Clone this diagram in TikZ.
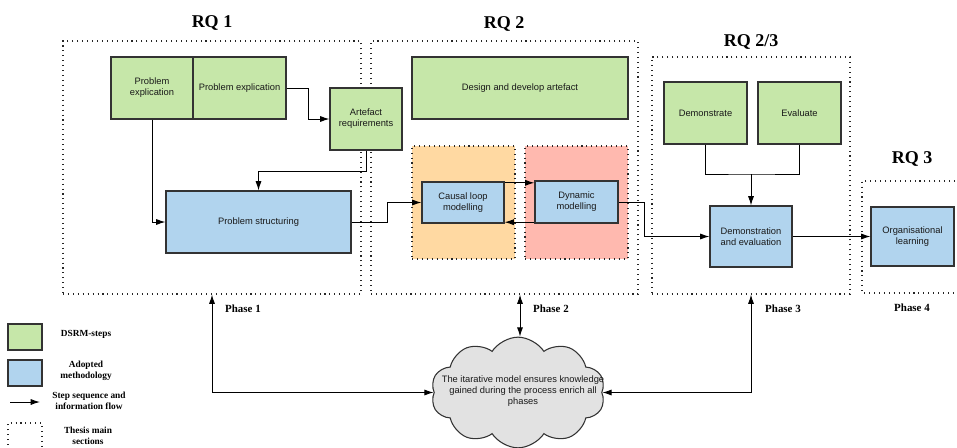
\documentclass[tikz,border=0pt]{standalone}
\usepackage{fontspec}
\setmainfont{Liberation Serif}
\newfontfamily\boxfont{Liberation Sans}
\usetikzlibrary{arrows.meta,shapes.symbols}

\definecolor{dsrmgreen}{HTML}{C6E7A9}
\definecolor{methblue}{HTML}{B1D4EE}
\definecolor{cldorange}{HTML}{FFD9A2}
\definecolor{dynred}{HTML}{FFB9AF}
\definecolor{cloudgrey}{HTML}{E2E2E2}
\definecolor{edge}{HTML}{333333}

\tikzset{
  stepbase/.style={draw=edge, line width=0.8pt, inner sep=1pt, align=center,
    font=\boxfont\fontsize{7}{8.3}\selectfont, text=black!90},
  gbox/.style={stepbase, fill=dsrmgreen},
  bbox/.style={stepbase, fill=methblue},
  dotline/.style={line width=0.8pt, dash pattern=on 0.8pt off 2.9pt, black!85},
  section/.style={dotline, draw, inner sep=0pt},
  region/.style={dotline, draw, inner sep=0pt},
  arr/.style={line width=0.75pt, -{Latex[length=7pt,width=4.6pt]}},
  barr/.style={line width=0.75pt, {Latex[length=7pt,width=4.6pt]}-{Latex[length=7pt,width=4.6pt]}},
  plain/.style={line width=0.75pt},
  rqlabel/.style={font=\bfseries\fontsize{13.5}{15}\selectfont},
  phaselabel/.style={font=\bfseries\fontsize{8.2}{9}\selectfont},
  legendtext/.style={font=\bfseries\fontsize{7}{8.4}\selectfont, align=center},
}

\begin{document}
\begin{tikzpicture}[x=0.75pt, y=-0.75pt]
\useasboundingbox (0,0) rectangle (957,447);

% thesis main sections
\node[section, minimum width=223.5pt, minimum height=189.75pt] (sec1) at (212,167.5) {};
\node[section, minimum width=200.25pt, minimum height=189.75pt] (sec2) at (504.5,167.5) {};
\node[section, minimum width=148.5pt, minimum height=177.75pt] (sec3) at (751,175.5) {};
\draw[dotline] (960,181) -- (862,181) -- (862,293) -- (960,293);

% research question headings
\node[rqlabel] (rq1) at (212,23) {RQ 1};
\node[rqlabel] (rq2) at (504,24) {RQ 2};
\node[rqlabel] (rq23) at (751,42) {RQ 2/3};
\node[rqlabel] (rq3) at (912,159) {RQ 3};

% modelling regions
\node[region, fill=cldorange, minimum width=77.25pt, minimum height=84.75pt] (regcl) at (463.5,202.5) {};
\node[region, fill=dynred, minimum width=77.25pt, minimum height=84.75pt] (regdm) at (576.5,202.5) {};

% phase 1
\node[gbox, minimum width=61.5pt, minimum height=46.5pt] (pe1) at (152,88) {Problem\\explication};
\node[gbox, minimum width=69.75pt, minimum height=46.5pt] (pe2) at (239.5,88) {Problem explication};
\node[gbox, minimum width=54pt, minimum height=46.5pt] (ar) at (366,119) {Artefact\\requirements};
\node[bbox, minimum width=138.75pt, minimum height=46.5pt] (ps) at (258.5,222) {Problem structuring};

% phase 2
\node[gbox, minimum width=162pt, minimum height=46.5pt] (dda) at (520,88) {Design and develop artefact};
\node[bbox, minimum width=61.5pt, minimum height=30.75pt] (cl) at (463,202.5) {Causal loop\\modelling};
\node[bbox, minimum width=62.25pt, minimum height=31.5pt] (dm) at (576.5,202) {Dynamic\\modelling};

% phase 3
\node[gbox, minimum width=62.25pt, minimum height=46.5pt] (dem) at (705.5,113) {Demonstrate};
\node[gbox, minimum width=62.25pt, minimum height=46.5pt] (eva) at (799.5,113) {Evaluate};
\node[bbox, minimum width=61.5pt, minimum height=45.75pt] (de) at (751,236.5) {Demonstration\\and evaluation};

% phase 4
\node[bbox, minimum width=62.25pt, minimum height=44.25pt] (ol) at (912.5,236.5) {Organisational\\learning};

% step sequence
\draw[arr] (pe2.east) -- ++(22,0) |- (ar.west);
\draw[arr] (pe1.south) |- (ps.west);
\draw[arr] (ar.south) -- ++(0,21) -| (ps.north);
\draw[arr] (ps.east) -- ++(36,0) |- (cl.west);
\draw[arr] ([yshift=-1pt]cl.north east) -- ([yshift=-1pt]cl.north east -| dm.west);
\draw[arr] ([yshift=1pt]dm.south west) -- ([yshift=1pt]dm.south west -| cl.east);
\draw[arr] (dm.east) -- ++(26,0) |- (de.west);
\coordinate (join) at (751,174);
\draw[plain] (dem.south) |- (join) -| (eva.south);
\draw[arr] (join) -- (de.north);
\draw[arr] (de.east) -- (ol.west);

% iterative knowledge cloud
\node[cloud, cloud puffs=10, cloud puff arc=115, draw=edge, line width=0.8pt, fill=cloudgrey,
      minimum width=130.5pt, minimum height=83pt, inner sep=0pt] (cloud) at (518,392.5) {};
\node[font=\boxfont\fontsize{7}{8.5}\selectfont, align=center, text=black!90] (cloudtext) at (523,391)
  {The itarative model ensures knowledge\\gained during the process enrich all\\phases};

\draw[barr] (sec1.south) |- (cloud.west);
\draw[barr] (cloud.north -| 520,0) -- (sec2.south -| 520,0);
\draw[barr] (sec3.south) |- (cloud.east);

% phase labels
\node[phaselabel] (ph1) at (243,309) {Phase 1};
\node[phaselabel] (ph2) at (551,309) {Phase 2};
\node[phaselabel] (ph3) at (783,309) {Phase 3};
\node[phaselabel] (ph4) at (912,308) {Phase 4};

% legend
\node[gbox, minimum width=25.5pt, minimum height=19.5pt] (lgreen) at (25,337) {};
\node[legendtext] (lgreent) at (86,334) {DSRM-steps};
\node[bbox, minimum width=25.5pt, minimum height=19.5pt] (lblue) at (25,373) {};
\node[legendtext] (lbluet) at (86,371) {Adopted\\methodology};
\coordinate (larrs) at (10,402);
\coordinate (larre) at (40,402);
\draw[arr] (larrs) -- (larre);
\node[legendtext] (larrt) at (89,400.5) {Step sequence and\\information flow};
\draw[dotline] (8,450) -- (8,423) -- (42,423) -- (42,450);
\node[legendtext] (ldott) at (88,435.5) {Thesis main\\sections};
\end{tikzpicture}
\end{document}
